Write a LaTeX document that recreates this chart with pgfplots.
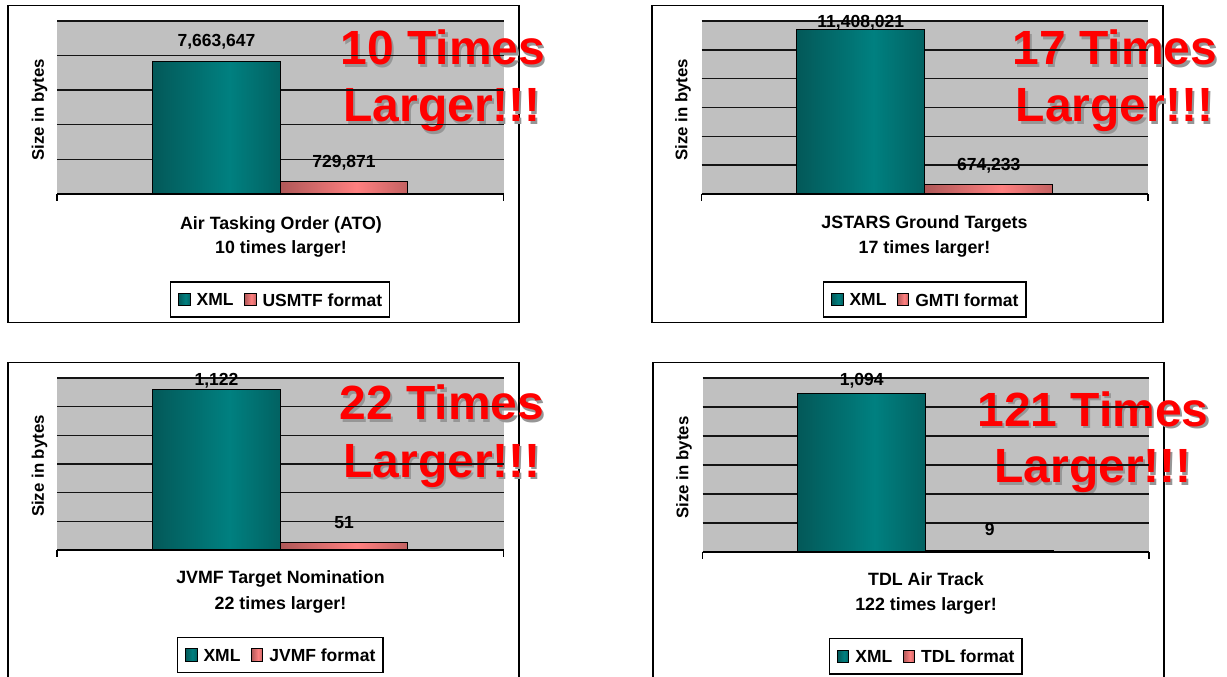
\documentclass[border=0pt]{standalone}
\usepackage{fontspec}
\setmainfont{Liberation Sans}
\usepackage{pgfplots}
\usepackage{pgfplotstable}
\pgfplotsset{compat=1.18}

\definecolor{plotgray}{RGB}{192,192,192}
\definecolor{gridcol}{RGB}{20,20,20}
\definecolor{tealdark}{RGB}{6,56,56}
\definecolor{tealmid}{RGB}{0,128,128}
\definecolor{tealedge}{RGB}{4,60,60}
\definecolor{salmdark}{RGB}{108,54,54}
\definecolor{salmmid}{RGB}{255,128,128}
\definecolor{salmedge}{RGB}{120,60,60}
\definecolor{shadowgray}{RGB}{150,150,150}

% left-to-right gradients for the bars (dark edges, bright band right of centre)
\pgfdeclarehorizontalshading{tealbar}{100bp}{color(0bp)=(tealdark); color(55bp)=(tealmid); color(100bp)=(tealedge)}
\pgfdeclarehorizontalshading{salmbar}{100bp}{color(0bp)=(salmdark); color(55bp)=(salmmid); color(100bp)=(salmedge)}

\newcommand\labfont{\fontsize{17.8bp}{20bp}\selectfont\bfseries}
\newcommand\ylabfont{\fontsize{16.8bp}{20bp}\selectfont\bfseries}
\newcommand\legfont{\fontsize{17.5bp}{20bp}\selectfont\bfseries}
\newcommand\valfont{\fontsize{17.5bp}{20bp}\selectfont\bfseries}
\newcommand\bigfont[1]{\fontsize{#1bp}{#1bp}\selectfont\bfseries}

% message sizes in bytes
\pgfplotstableread{
x xml xmllabel fmt fmtlabel
0 7663647 7,663,647 729871 729,871
}\atodata
\pgfplotstableread{
x xml xmllabel fmt fmtlabel
0 11408021 11,408,021 674233 674,233
}\jstarsdata
\pgfplotstableread{
x xml xmllabel fmt fmtlabel
0 1122 1,122 51 51
}\jvmfdata
\pgfplotstableread{
x xml xmllabel fmt fmtlabel
0 1094 1,094 9 9
}\tdldata

\pgfplotsset{
  sqlegend/.style={legend image code/.code={\draw[##1, line width=0.9bp] (0bp,-6bp) rectangle (11.5bp,6.3bp);}},
  xmlbar/.style={draw=black, line width=1.1bp, shade, shading=tealbar, sqlegend},
  fmtbar/.style={draw=black, line width=1.1bp, shade, shading=salmbar, sqlegend},
  valshift/.style={every node near coord/.append style={yshift=#1}},
  sizechart/.style={
    anchor=south west, scale only axis,
    xmin=-0.5, xmax=0.5, ymin=0,
    ybar=0pt,
    axis x line*=bottom, axis y line*=left,
    axis line style={-},
    y axis line style={draw=none},
    x axis line style={black, line width=1.4bp},
    xtick={-0.5,0.5}, xticklabels={},
    yticklabels={}, scaled y ticks=false,
    tick align=outside, major tick length=7bp,
    xtick style={black, line width=1.2bp},
    ytick style={draw=none},
    ymajorgrids, grid style={gridcol, line width=1.4bp},
    clip=false,
    point meta=explicit symbolic,
    nodes near coords,
    nodes near coords style={color=black, font=\valfont, anchor=base, inner sep=0pt},
    legend columns=-1,
    legend style={at={(0.5,-0.61)}, anchor=center, draw=black, line width=1.3bp, fill=white,
      font=\legfont, inner xsep=7.5bp, inner ysep=11bp,
      nodes={inner sep=0pt, text depth=0pt},
      /tikz/every odd column/.append style={column sep=6bp},
      /tikz/every even column/.append style={column sep=10.5bp}},
  },
}

\begin{document}
\begin{tikzpicture}[x=1bp,y=1bp]
\fill[white] (0,0) rectangle (1227,677);

% panel frames
\draw[black, line width=1.3bp] (8,354.5) rectangle (519,671.5);
\draw[black, line width=1.3bp] (652,354.5) rectangle (1163,671.5);
\draw[black, line width=1.3bp] (8,-10) rectangle (519,314.5);
\draw[black, line width=1.3bp] (653,-10) rectangle (1164,314.5);

% plot area backgrounds (the gridlines of each axis are drawn over the call-outs)
\fill[plotgray] (57,483) rectangle (503.5,656);
\fill[plotgray] (701.5,483) rectangle (1148,656);
\fill[plotgray] (57,127) rectangle (503.5,299);
\fill[plotgray] (702.5,125) rectangle (1149,299);

% call-out text with drop shadow
\foreach \cx/\cy/\txt in {443/612/10 Times, 442/555/Larger!!!,
    1115/612/17 Times, 1114.5/555/Larger!!!,
    442/257/22 Times, 442/199.3/Larger!!!,
    1093/250.3/121 Times, 1093/194/Larger!!!}{
  \node[anchor=base, inner sep=0pt, text=shadowgray, font=\bigfont{48}] at (\cx+2.2,\cy-2.2) {\txt};
  \node[anchor=base, inner sep=0pt, text=red, font=\bigfont{48}] at (\cx,\cy) {\txt};
}

% axis titles
\node[rotate=90, font=\ylabfont] at (39.5,567) {Size in bytes};
\node[rotate=90, font=\ylabfont] at (683,567) {Size in bytes};
\node[rotate=90, font=\ylabfont] at (39.5,211) {Size in bytes};
\node[rotate=90, font=\ylabfont] at (684,209.5) {Size in bytes};

\node[anchor=base, font=\labfont] at (281,447.5) {Air Tasking Order (ATO)};
\node[anchor=base, font=\labfont] at (281,423.5) {10 times larger!};
\node[anchor=base, font=\labfont] at (924.5,448) {JSTARS Ground Targets};
\node[anchor=base, font=\labfont] at (924.5,423.5) {17 times larger!};
\node[anchor=base, font=\labfont] at (280.5,93) {JVMF Target Nomination};
\node[anchor=base, font=\labfont] at (280.5,67.5) {22 times larger!};
\node[anchor=base, font=\labfont] at (926,91.5) {TDL Air Track};
\node[anchor=base, font=\labfont] at (926,66) {122 times larger!};

% Air Tasking Order
\begin{axis}[sizechart, at={(57bp,483bp)}, width=446.5bp, height=173bp,
  ymax=10000000, ytick={0,2000000,4000000,6000000,8000000,10000000},
  bar width=127.5bp]
\addplot[xmlbar, valshift=14.8bp] table[x=x, y=xml, meta=xmllabel] {\atodata};
\addplot[fmtbar, valshift=14.3bp] table[x=x, y=fmt, meta=fmtlabel] {\atodata};
\legend{XML, USMTF format}
\end{axis}

% JSTARS Ground Targets
\begin{axis}[sizechart, at={(701.5bp,483bp)}, width=446.5bp, height=173bp,
  ymax=12000000, ytick={0,2000000,4000000,6000000,8000000,10000000,12000000},
  bar width=128bp]
\addplot[xmlbar, valshift=1.7bp] table[x=x, y=xml, meta=xmllabel] {\jstarsdata};
\addplot[fmtbar, valshift=13.4bp] table[x=x, y=fmt, meta=fmtlabel] {\jstarsdata};
\legend{XML, GMTI format}
\end{axis}

% JVMF Target Nomination
\begin{axis}[sizechart, at={(57bp,127bp)}, width=446.5bp, height=172bp,
  ymax=1200, ytick={0,200,400,600,800,1000,1200},
  bar width=127.5bp]
\addplot[xmlbar, valshift=4.1bp] table[x=x, y=xml, meta=xmllabel] {\jvmfdata};
\addplot[fmtbar, valshift=14.6bp] table[x=x, y=fmt, meta=fmtlabel] {\jvmfdata};
\legend{XML, JVMF format}
\end{axis}

% TDL Air Track
\begin{axis}[sizechart, at={(702.5bp,125bp)}, width=446.5bp, height=174bp,
  ymax=1200, ytick={0,200,400,600,800,1000,1200},
  bar width=128bp, legend style={at={(0.5,-0.60)}}]
\addplot[xmlbar, valshift=8.3bp] table[x=x, y=xml, meta=xmllabel] {\tdldata};
\addplot[fmtbar, valshift=14.8bp] table[x=x, y=fmt, meta=fmtlabel] {\tdldata};
\legend{XML, TDL format}
\end{axis}

\pgfresetboundingbox
\path[use as bounding box] (0,0) rectangle (1227,677);
\end{tikzpicture}
\end{document}
